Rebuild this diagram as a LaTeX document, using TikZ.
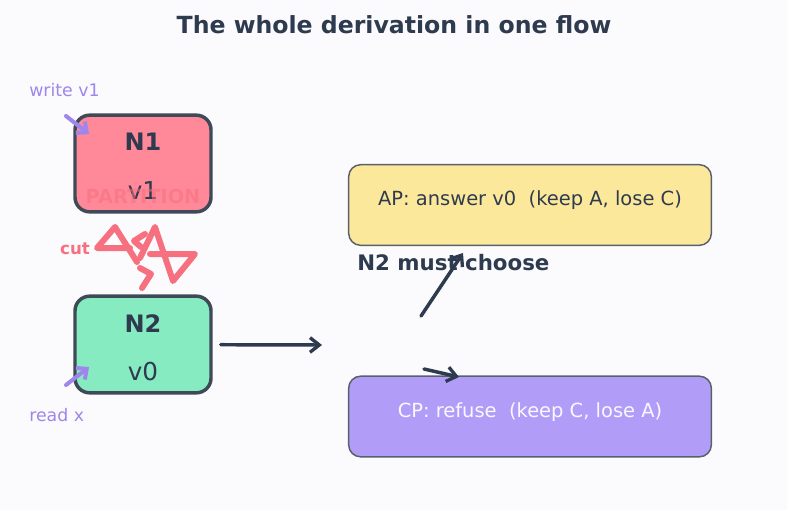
\documentclass[tikz,border=0pt]{standalone}
\usepackage{fontspec}
\setmainfont{DejaVu Sans}
\usetikzlibrary{positioning,calc,arrows.meta}
\definecolor{Paper}{HTML}{FBFBFE}
\definecolor{Ink}{HTML}{2E3A4E}
\definecolor{Slate}{HTML}{3F4A59}
\definecolor{Rose}{HTML}{FF8899}
\definecolor{Mint}{HTML}{86EBC1}
\definecolor{Cut}{HTML}{F7707F}
\definecolor{Lilac}{HTML}{9F86EC}
\definecolor{Butter}{HTML}{FCE89B}
\definecolor{Violet}{HTML}{B19DF8}
\definecolor{Edge}{HTML}{5A606B}
\definecolor{Snow}{HTML}{F8F8FF}
\tikzset{
  server node/.style={draw=Slate,line width=2.6pt,rounded corners=11pt,
    minimum width=102pt,minimum height=72.5pt,inner sep=0pt},
  server name/.style={font=\fontsize{18}{20}\selectfont\bfseries,text=Ink,inner sep=0pt},
  server value/.style={font=\fontsize{18.5}{20}\selectfont,text=Ink,inner sep=0pt},
  choice node/.style={draw=Edge,line width=1.1pt,rounded corners=9pt,
    minimum width=272pt,minimum height=60.5pt,inner sep=0pt},
  choice text/.style={font=\fontsize{14.6}{17}\selectfont,inner sep=0pt},
  side label/.style={font=\fontsize{13}{15}\selectfont,text=Lilac,inner sep=0pt},
  flow arrow/.style={-{Straight Barb[length=7pt,width=11pt,line width=2.5pt]},
    line width=2.6pt,draw=Ink,line cap=round},
  client arrow/.style={-{Straight Barb[length=6pt,width=11pt,line width=3pt]},
    line width=3pt,draw=Lilac,line cap=round},
  cut line/.style={line width=4.5pt,draw=Cut,line cap=round,line join=round}
}
\begin{document}
\begin{tikzpicture}[x=0.75pt,y=-0.75pt]
  \fill[Paper] (0,0) rectangle (787,510);
  \useasboundingbox (0,0) rectangle (787,510);
  \node[font=\fontsize{17.7}{20}\selectfont\bfseries,text=Ink] (title) at (394,25) {The whole derivation in one flow};
  % the two replicas
  \node[server node,fill=Rose] (n1) at (143,163.5) {};
  \node[server name] (n1 name) at ([yshift=16pt]n1.center) {N1};
  \node[server value] (n1 value) at ([yshift=-20pt]n1.center) {v1};
  \node[font=\fontsize{14.5}{16}\selectfont\bfseries,text=Cut,text opacity=.55,inner sep=0pt] (partition) at ([yshift=-24.5pt]n1.center) {PARTITION};
  \node[server node,fill=Mint] (n2) at (143,344.5) {};
  \node[server name] (n2 name) at ([yshift=16pt]n2.center) {N2};
  \node[server value] (n2 value) at ([yshift=-20pt]n2.center) {v0};
  % clients
  \node[side label,anchor=west] (write) at (29,90) {write v1};
  \node[side label,anchor=west] (read) at (29,415) {read x};
  \coordinate (write tail) at (66,116);
  \coordinate (write tip) at (89,134);
  \coordinate (read tail) at (66,385);
  \coordinate (read tip) at (89,367);
  \draw[client arrow] (write tail) -- (write tip);
  \draw[client arrow] (read tail) -- (read tip);
  % the cut
  \node[font=\fontsize{12.5}{15}\selectfont\bfseries,text=Cut,inner sep=0pt] (cut) at (75,249) {cut};
  \draw[cut line] (130,248) -- (97,248) -- (115,227) -- (137,262);
  \draw[cut line] (140,258) -- (155,227) -- (173,281) -- (195,254) -- (150,254);
  \draw[cut line] (145,234) -- (134,241) -- (141,247);
  \draw[cut line] (140,268) -- (151,274) -- (142,288);
  % the choice
  \coordinate (fork) at (322,345);
  \draw[flow arrow,shorten <=6pt] (n2) -- (fork);
  \node[choice node,fill=Butter] (ap) at (530,205) {};
  \node[choice text,text=Ink] (ap text) at ([yshift=3.5pt]ap.center) {AP: answer v0\ \ (keep A, lose C)};
  \node[choice node,fill=Violet] (cp) at (530,416.5) {};
  \node[choice text,text=Snow] (cp text) at ([yshift=3.5pt]cp.center) {CP: refuse\ \ (keep C, lose A)};
  \node[font=\fontsize{16}{18}\selectfont\bfseries,text=Ink,anchor=west,inner sep=0pt] (must) at (357,263) {N2 must choose};
  \coordinate (up tail) at (421,316);
  \coordinate (up tip) at (463,253);
  \coordinate (down tail) at (424,369);
  \coordinate (down tip) at (459,377);
  \draw[flow arrow] (up tail) -- (up tip);
  \draw[flow arrow] (down tail) -- (down tip);
\end{tikzpicture}
\end{document}
